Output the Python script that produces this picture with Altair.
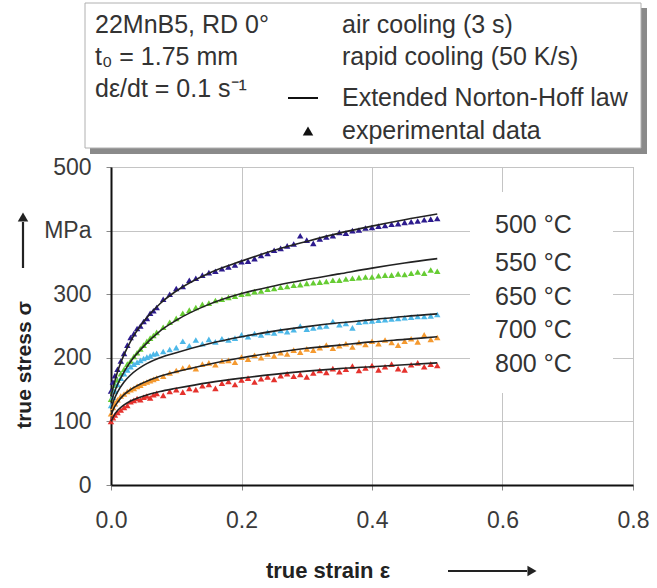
import altair as alt
import pandas as pd

FONT = "Liberation Sans"

temps = ["500 °C", "550 °C", "650 °C", "700 °C", "800 °C"]
colors = ["#2d1b8e", "#66cc33", "#4db8e8", "#f59a30", "#e5322d"]

# experimental data (triangles)
strain_exp = [0.000, 0.003, 0.006, 0.010, 0.015, 0.020, 0.025, 0.030, 0.035, 0.040,
              0.045, 0.050, 0.055, 0.060, 0.065, 0.070,
              0.08, 0.09, 0.10, 0.11, 0.12, 0.13, 0.14, 0.15, 0.16, 0.17,
              0.18, 0.19, 0.20, 0.21, 0.22, 0.23, 0.24, 0.25, 0.26, 0.27,
              0.28, 0.29, 0.30, 0.31, 0.32, 0.33, 0.34, 0.35, 0.36, 0.37,
              0.38, 0.39, 0.40, 0.41, 0.42, 0.43, 0.44, 0.45, 0.46, 0.47,
              0.48, 0.49, 0.50]
exp_500 = [148, 162, 172, 182, 195, 207, 220, 232, 238, 246,
           250, 257, 262, 270, 274, 279,
           292, 300, 309, 312, 322, 325, 330, 334, 336, 340,
           343, 346, 351, 352, 356, 361, 364, 369, 372, 376,
           379, 392, 385, 380, 387, 390, 392, 397, 396, 400,
           401, 404, 405, 407, 408, 410, 411, 413, 414, 415,
           417, 418, 419]
exp_550 = [135, 148, 157, 165, 175, 182, 190, 195, 202, 208,
           214, 220, 226, 231, 235, 240,
           248, 256, 262, 270, 275, 279, 284, 286, 290, 292,
           295, 297, 300, 301, 304, 305, 308, 309, 311, 312,
           314, 315, 317, 318, 319, 320, 322, 322, 324, 325,
           326, 327, 327, 329, 330, 330, 332, 331, 333, 335,
           333, 338, 336]
exp_650 = [125, 138, 148, 158, 168, 175, 181, 186, 190, 193,
           196, 199, 201, 203, 206, 207,
           210, 213, 216, 226, 219, 228, 222, 229, 225, 230,
           228, 231, 236, 233, 238, 236, 240, 239, 243, 241,
           244, 250, 245, 247, 249, 250, 257, 252, 254, 247,
           256, 257, 258, 259, 260, 261, 262, 263, 264, 265,
           265, 266, 268]
exp_700 = [112, 122, 128, 134, 140, 143, 147, 150, 152, 155,
           157, 160, 162, 164, 166, 168,
           171, 176, 180, 184, 186, 183, 190, 192, 189, 195,
           196, 193, 201, 198, 204, 200, 206, 203, 208, 206,
           212, 209, 214, 212, 216, 220, 215, 219, 222, 217,
           224, 221, 226, 222, 228, 224, 220, 226, 230, 225,
           236, 229, 232]
exp_800 = [100, 106, 110, 114, 118, 122, 125, 131, 133, 136,
           134, 138, 140, 137, 142, 144,
           141, 147, 150, 146, 152, 150, 156, 158, 152, 160,
           163, 158, 165, 168, 162, 167, 170, 166, 172, 175,
           171, 174, 170, 176, 180, 177, 183, 178, 182, 187,
           180, 184, 188, 181, 186, 190, 183, 181, 189, 192,
           186, 190, 188]

# Extended Norton-Hoff law (black lines)
strain_fit = [0.0, 0.005, 0.01, 0.02, 0.03, 0.05, 0.075, 0.1, 0.15, 0.2,
              0.25, 0.3, 0.35, 0.4, 0.45, 0.5]
fit_500 = [140, 160, 178, 205, 226, 257, 285, 305, 333, 352, 369, 383, 396, 407, 417, 426]
fit_550 = [130, 145, 158, 178, 194, 218, 242, 259, 284, 301, 313, 323, 332, 341, 349, 356]
fit_650 = [120, 135, 146, 162, 173, 188, 200, 208, 222, 233, 242, 249, 255, 260, 265, 269]
fit_700 = [110, 122, 130, 142, 150, 161, 171, 178, 190, 200, 208, 215, 220, 225, 229, 233]
fit_800 = [100, 110, 117, 126, 132, 140, 147, 152, 161, 168, 174, 179, 183, 186, 189, 192]

x_ticks = [0.0, 0.2, 0.4, 0.6, 0.8]
y_ticks = [0, 100, 200, 300, 400, 500]

legend_left = ["22MnB5, RD 0°", "t\u2080 = 1.75 mm", "d\u03b5/dt = 0.1 s\u207b\u00b9"]
legend_right = ["air cooling (3 s)", "rapid cooling (50 K/s)",
                "Extended Norton-Hoff law", "experimental data"]

rows = []
for t, ys in zip(temps, [exp_500, exp_550, exp_650, exp_700, exp_800]):
    assert len(ys) == len(strain_exp)
    for x, y in zip(strain_exp, ys):
        rows.append({"strain": x, "stress": y, "temp": t})
exp_df = pd.DataFrame(rows)

rows = []
for t, ys in zip(temps, [fit_500, fit_550, fit_650, fit_700, fit_800]):
    assert len(ys) == len(strain_fit)
    for x, y in zip(strain_fit, ys):
        rows.append({"strain": x, "stress": y, "temp": t})
fit_df = pd.DataFrame(rows)

x_scale = alt.Scale(domain=[0, 0.8], nice=False, zero=False)
y_scale = alt.Scale(domain=[0, 500], nice=False)

x_axis = alt.Axis(values=x_ticks, format=".1f", title=None, grid=True,
                  gridColor="#c4c4c4", gridWidth=1, domainColor="#111", domainWidth=2,
                  tickColor="#888", tickSize=5, labelFontSize=23, labelColor="#3a3a3a",
                  labelFont=FONT, labelPadding=19, labelFlush=False)
y_axis = alt.Axis(values=y_ticks, title=None, grid=True,
                  labelExpr="datum.value == 400 ? 'MPa' : datum.label",
                  gridColor="#c4c4c4", gridWidth=1, domainColor="#111", domainWidth=2,
                  tickColor="#888", tickSize=5, labelFontSize=23, labelColor="#3a3a3a",
                  labelFont=FONT, labelPadding=15, labelFlush=False)

one = pd.DataFrame({"a": [0]})

def box(x1, x2, y1, y2, **kw):
    return alt.Chart(one).mark_rect(**kw).encode(
        x=alt.value(x1), x2=alt.value(x2), y=alt.value(y1), y2=alt.value(y2))

def label(txt, x, y, size=25, weight="normal", align="left", baseline="alphabetic", angle=0,
          color="#333"):
    return alt.Chart(one).mark_text(text=txt, font=FONT, fontSize=size, fontWeight=weight,
                                    align=align, baseline=baseline, angle=angle,
                                    color=color).encode(x=alt.value(x), y=alt.value(y))

# white background of the temperature labels
temp_bg = box(359, 502, 25, 226, fill="white")

points = alt.Chart(exp_df).mark_point(shape="triangle-up", filled=True, size=42,
                                      opacity=1).encode(
    x=alt.X("strain:Q", scale=x_scale, axis=x_axis),
    y=alt.Y("stress:Q", scale=y_scale, axis=y_axis),
    color=alt.Color("temp:N", scale=alt.Scale(domain=temps, range=colors), legend=None),
)

lines = alt.Chart(fit_df).mark_line(color="#222", strokeWidth=1.6,
                                    interpolate="monotone").encode(
    x=alt.X("strain:Q", scale=x_scale),
    y=alt.Y("stress:Q", scale=y_scale),
    detail="temp:N",
)

layers = [temp_bg, points, lines]

# temperature labels
for t, yy in zip(temps, [58, 96, 130, 163, 197]):
    layers.append(label(t, 384, yy, size=25, baseline="middle"))

# legend box
layers.append(box(-21, 536, -159, -13, fill="#8a8a8a"))
layers.append(box(-26, 530, -164, -19, fill="white", stroke="#b0b0b0", strokeWidth=1))
for txt, yy in zip(legend_left, [-134, -102, -70]):
    layers.append(label(txt, -16, yy))
for txt, yy in zip(legend_right, [-134, -102, -61, -28]):
    layers.append(label(txt, 231, yy))
layers.append(alt.Chart(one).mark_rule(color="#111", strokeWidth=2).encode(
    x=alt.value(177), x2=alt.value(207), y=alt.value(-69)))
layers.append(alt.Chart(one).mark_point(shape="triangle-up", filled=True, size=110,
                                        color="#111", opacity=1).encode(
    x=alt.value(197), y=alt.value(-36)))

# axis titles with arrows
layers.append(label("true stress σ", -86, 198, size=21, weight="bold", align="center",
                    baseline="middle", angle=270, color="#222"))
layers.append(alt.Chart(one).mark_rule(color="#222", strokeWidth=2.2).encode(
    x=alt.value(-88), y=alt.value(55), y2=alt.value(101)))
layers.append(alt.Chart(one).mark_point(shape="triangle-up", filled=True, size=110,
                                        color="#222", opacity=1).encode(
    x=alt.value(-88), y=alt.value(50)))
layers.append(label("true strain ε", 217, 404, size=22, weight="bold", align="center",
                    baseline="middle", color="#222"))
layers.append(alt.Chart(one).mark_rule(color="#222", strokeWidth=2.2).encode(
    x=alt.value(337), x2=alt.value(416), y=alt.value(404)))
layers.append(alt.Chart(one).mark_point(shape="triangle-right", filled=True, size=110,
                                        color="#222", opacity=1).encode(
    x=alt.value(421), y=alt.value(404)))

chart = alt.layer(*layers).properties(
    width=522, height=318,
    autosize=alt.AutoSizeParams(type="none"),
    padding={"left": 111, "top": 167, "right": 24, "bottom": 103},
    background="white",
).configure_view(stroke="#9a9a9a", strokeWidth=1)

chart.save("out.html", embed_options={"renderer": "svg", "actions": False})
